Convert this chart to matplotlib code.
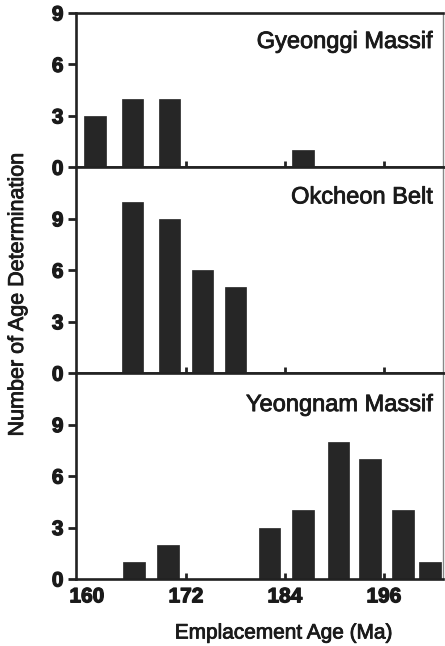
import matplotlib
matplotlib.use("Agg")
import matplotlib.pyplot as plt
import matplotlib.patheffects as pe

# Data
panel_names = ["Gyeonggi Massif", "Okcheon Belt", "Yeongnam Massif"]
gyeonggi_ages = [161.0, 165.5, 170.0, 186.2]
gyeonggi_counts = [3, 4, 4, 1]
okcheon_ages = [165.5, 170.0, 174.0, 178.0]
okcheon_counts = [10, 9, 6, 5]
yeongnam_ages = [165.7, 169.8, 182.1, 186.2, 190.5, 194.3, 198.3, 201.6]
yeongnam_counts = [1, 2, 3, 4, 8, 7, 4, 1]
x_ticks = [160, 172, 184, 196]
y_ticks = [0, 3, 6, 9]
y_tops = [9, 12, 12]

series = [(gyeonggi_ages, gyeonggi_counts),
          (okcheon_ages, okcheon_counts),
          (yeongnam_ages, yeongnam_counts)]

W, H = 445, 646
fig = plt.figure(figsize=(W / 100, H / 100), dpi=100)
left, right = 76 / W, 443 / W
bottom, top = 1 - 579 / H, 1 - 13 / H
gs = fig.add_gridspec(3, 1, height_ratios=y_tops, hspace=0,
                      left=left, right=right, bottom=bottom, top=top)

spine_col = "#222222"
bar_col = "#262626"
text_col = "#1a1a1a"
title_y = [0.812, 0.854, 0.845]
heavy = [pe.withStroke(linewidth=0.9, foreground=text_col)]
medium = [pe.withStroke(linewidth=0.6, foreground=text_col)]

axes = []
for i, (name, (ages, counts)) in enumerate(zip(panel_names, series)):
    ax = fig.add_subplot(gs[i])
    axes.append(ax)
    ax.bar(ages, counts, width=2.6, color=bar_col, edgecolor=bar_col, linewidth=0.5, zorder=2)
    ax.set_xlim(158.67, 203.15)
    ax.set_ylim(0, y_tops[i])
    ax.set_yticks(y_ticks)
    ylabs = ax.set_yticklabels([str(v) for v in y_ticks], fontfamily="Liberation Sans",
                               fontweight="bold", fontsize=15, color=text_col)
    for t in ylabs:
        t.set_path_effects(heavy)
    ax.set_xticks(x_ticks)
    if i == 2:
        xlabs = ax.set_xticklabels([str(v) for v in x_ticks], fontfamily="Liberation Sans",
                                   fontweight="bold", fontsize=15, color=text_col)
        for t in xlabs:
            t.set_path_effects(heavy)
    else:
        ax.set_xticklabels([])
    ax.tick_params(axis="x", direction="in", length=4, width=2, color=spine_col, pad=6)
    ax.tick_params(axis="y", direction="out", length=6, width=2, color=spine_col, pad=3)
    # hide tick mark at 160
    ax.xaxis.get_major_ticks()[0].tick1line.set_visible(False)
    for s in ax.spines.values():
        s.set_linewidth(1.9)
        s.set_color(spine_col)
    ax.spines["right"].set_linewidth(1.0)
    ax.spines["right"].set_color("#888888")
    ax.text(0.973, title_y[i], name, transform=ax.transAxes, ha="right", va="center",
            fontfamily="Liberation Sans", fontsize=17, color=text_col,
            path_effects=medium)

fig.text(284 / W, 1 - 633 / H, "Emplacement Age (Ma)", ha="center", va="center",
         fontfamily="Liberation Sans", fontsize=15, color=text_col, path_effects=medium)
fig.text(17.5 / W, 1 - 295 / H, "Number of Age Determination", ha="center", va="center",
         rotation=90, fontfamily="Liberation Sans", fontsize=15.5, color=text_col,
         path_effects=medium)

fig.savefig("out.png", dpi=100)
